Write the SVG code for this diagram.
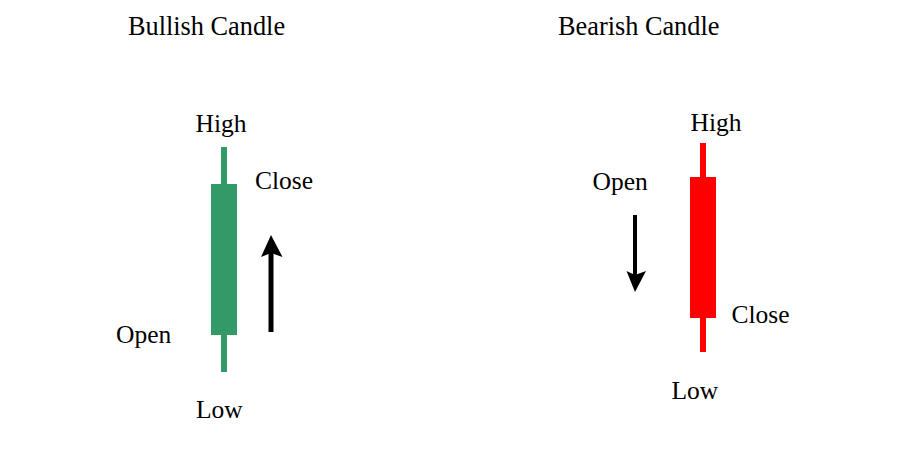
<svg xmlns="http://www.w3.org/2000/svg" width="914" height="454" viewBox="0 0 914 454">
<style>
text{font-family:"Liberation Serif","Times New Roman",serif;font-size:25.5px;fill:#000}
.title{font-size:26.3px}
.bull{fill:#339966}
.bear{fill:#ff0000}
.arr{fill:#000}
</style>
<rect width="914" height="454" fill="#fff"/>
<g id="bullish">
<text class="title" x="128" y="35">Bullish Candle</text>
<rect class="bull" x="221" y="147" width="6" height="225"/>
<rect class="bull" x="211" y="184" width="26" height="151"/>
<text x="195.5" y="131.5">High</text>
<text x="255" y="189">Close</text>
<text x="116" y="342.5">Open</text>
<text x="196" y="418">Low</text>
</g>
<g id="bearish">
<text class="title" x="558" y="35">Bearish Candle</text>
<rect class="bear" x="700" y="143" width="6" height="209"/>
<rect class="bear" x="690" y="177" width="26" height="141"/>
<text x="690.5" y="131">High</text>
<text x="592.5" y="189.5">Open</text>
<text x="731.5" y="322.5">Close</text>
<text x="671.5" y="398.5">Low</text>
</g>
<g id="connectors">
<rect class="arr" x="268.5" y="252" width="5" height="80"/>
<polygon class="arr" points="271,235 282.5,257 271,253 261,257"/>
<rect class="arr" x="633" y="215" width="4" height="62"/>
<polygon class="arr" points="635,292 646,271 635,275 626.5,271"/>
</g>
</svg>
